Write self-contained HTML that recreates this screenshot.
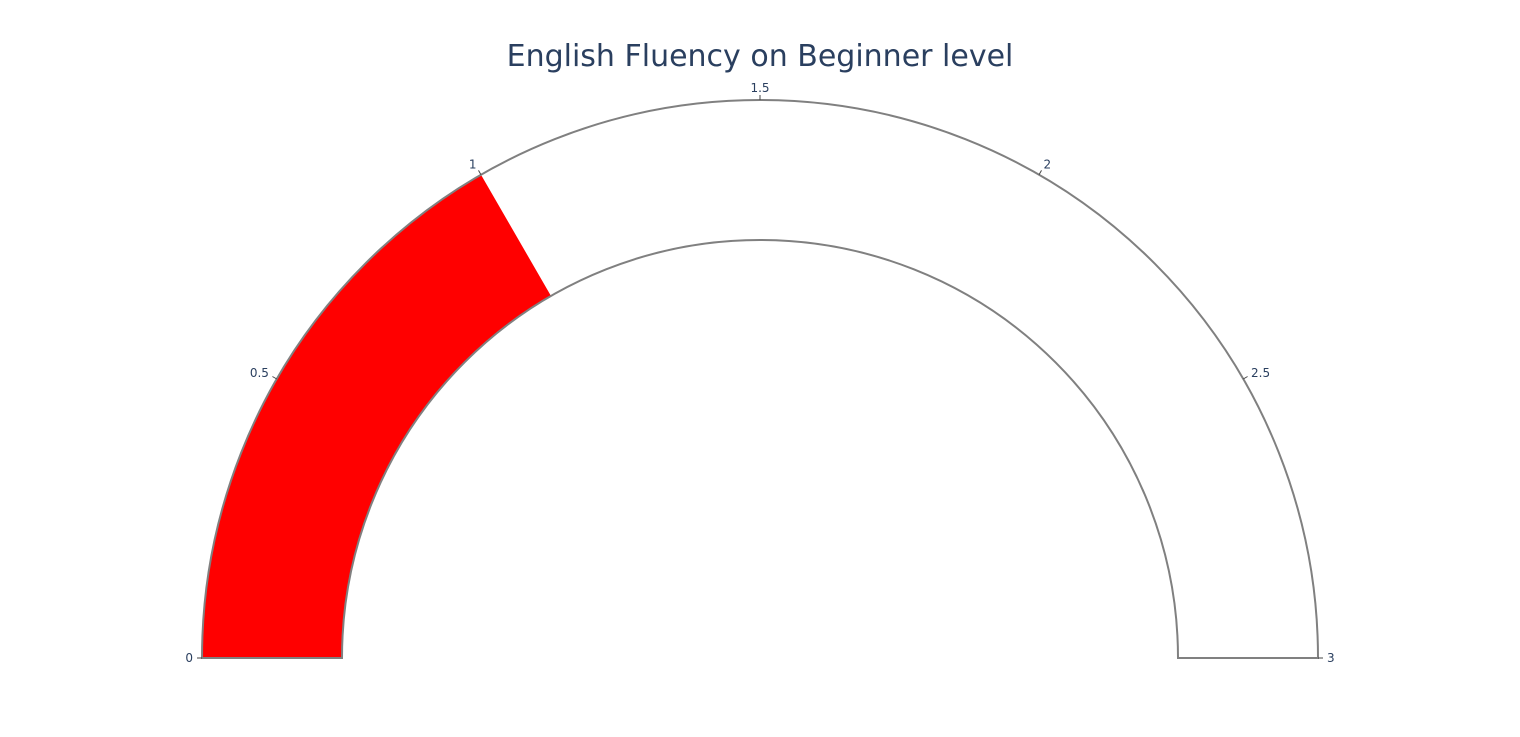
<!DOCTYPE html>
<html><head><meta charset="utf-8"><style>
html,body{margin:0;padding:0;background:#fff;}
svg{display:block;font-family:"DejaVu Sans",sans-serif;}
</style></head><body>
<svg id="chart" width="1520" height="737" viewBox="0 0 1520 737">
<text x="760" y="66" text-anchor="middle" font-size="30" fill="#2a3f5f">English Fluency on Beginner level</text>
<g id="g"></g>
</svg>
<script>
const rangeMin = 0;
const rangeMax = 3;
const gaugeValue = [1];
const tickValues = [0, 0.5, 1, 1.5, 2, 2.5, 3];
const tickLabels = ["0", "0.5", "1", "1.5", "2", "2.5", "3"];

const cx = 760, cy = 658, R = 558, r = 418;
const NS = "http://www.w3.org/2000/svg";
const g = document.getElementById('g');
function ang(v){ return Math.PI * (1 - (v - rangeMin) / (rangeMax - rangeMin)); }
function pt(rad, a){ return [cx + rad*Math.cos(a), cy - rad*Math.sin(a)]; }
function sector(v0, v1){
  const a0 = ang(v0), a1 = ang(v1);
  const p1 = pt(R,a0), p2 = pt(R,a1), p3 = pt(r,a1), p4 = pt(r,a0);
  const large = Math.abs(a0-a1) > Math.PI ? 1 : 0;
  return `M${p1} A${R},${R} 0 ${large} 1 ${p2} L${p3} A${r},${r} 0 ${large} 0 ${p4} Z`;
}
const bg = document.createElementNS(NS,'path');


bg.setAttribute('d', sector(rangeMin, rangeMax));
bg.setAttribute('fill', '#fff');
g.appendChild(bg);
const bar = document.createElementNS(NS,'path');


bar.setAttribute('d', sector(rangeMin, gaugeValue[0]));
bar.setAttribute('fill', '#ff0000');
g.appendChild(bar);
const border = document.createElementNS(NS,'path');


border.setAttribute('d', sector(rangeMin, rangeMax));
border.setAttribute('fill', 'none');
border.setAttribute('stroke', '#808080');
border.setAttribute('stroke-width', '2');
g.appendChild(border);
tickValues.forEach((v,i)=>{
  const a = ang(v);
  const p0 = pt(R, a), p1 = pt(R+5, a);
  const ln = document.createElementNS(NS,'line');
  
  
  ln.setAttribute('x1', p0[0]); ln.setAttribute('y1', p0[1]);
  ln.setAttribute('x2', p1[0]); ln.setAttribute('y2', p1[1]);
  ln.setAttribute('stroke', '#444'); ln.setAttribute('stroke-width', '1');
  g.appendChild(ln);
  const lp = pt(R+9, a);
  const t = document.createElementNS(NS,'text');
  
  
  const c = Math.cos(a);
  t.setAttribute('text-anchor', c > 0.2 ? 'start' : (c < -0.2 ? 'end' : 'middle'));
  t.setAttribute('x', lp[0]);
  t.setAttribute('y', lp[1] + 4 - Math.sin(a)*3);
  t.setAttribute('font-size', '12');
  t.setAttribute('fill', '#2a3f5f');
  t.textContent = tickLabels[i];
  g.appendChild(t);
});
</script>
</body></html>
